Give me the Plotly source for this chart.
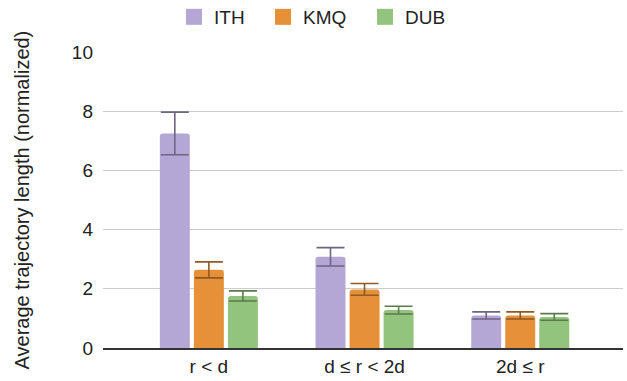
import plotly.graph_objects as go

categories = ["r < d", "d ≤ r < 2d", "2d ≤ r"]
series_names = ["ITH", "KMQ", "DUB"]
ith = [7.25, 3.08, 1.10]
kmq = [2.64, 1.98, 1.10]
dub = [1.76, 1.28, 1.05]
ith_err = [0.72, 0.31, 0.12]
kmq_err = [0.27, 0.20, 0.12]
dub_err = [0.17, 0.13, 0.11]
y_ticks = [0, 2, 4, 6, 8, 10]

colors = ["#b4a7d6", "#e69138", "#93c47d"]
err_colors = ["#6e6484", "#8e5a26", "#5b7a4e"]
legend_ids = ["legend", "legend2", "legend3"]
legend_x = [174, 263, 365]  # left edge of each legend entry, px

W, H = 627, 381
fig = go.Figure()
for name, vals, errs, c, ec in zip(series_names, [ith, kmq, dub],
                                   [ith_err, kmq_err, dub_err], colors, err_colors):
    fig.add_trace(go.Bar(
        name=name, x=categories, y=vals, showlegend=False,
        marker=dict(color=c, cornerradius=3, line=dict(width=0)),
        error_y=dict(type="data", array=errs, visible=True,
                     color=ec, thickness=1.6, width=14),
    ))
# legend entries with larger square swatches
for name, c, lid in zip(series_names, colors, legend_ids):
    fig.add_trace(go.Scatter(
        name=name, x=[None], y=[None], mode="markers", legend=lid,
        marker=dict(symbol="square", size=18, color=c), showlegend=True,
    ))

font = "Liberation Sans, Arial, sans-serif"
legend_common = dict(orientation="h", xref="container", xanchor="left",
                     yref="container", y=1 - 17 / H, yanchor="middle",
                     font=dict(size=19, color="#222222"),
                     itemsizing="trace", bgcolor="rgba(0,0,0,0)")
layout_legends = {}
for lid, lx in zip(legend_ids, legend_x):
    layout_legends[lid] = dict(legend_common, x=lx / W)

fig.update_layout(
    width=W, height=H,
    margin=dict(l=103, r=4, t=52, b=33, autoexpand=False),
    paper_bgcolor="white", plot_bgcolor="white",
    barmode="group", bargap=0.344, bargroupgap=0.12,
    font=dict(family=font, size=19, color="#222222"),
    showlegend=True,
    xaxis=dict(type="category", range=[-0.68, 2.66], showgrid=False,
               showline=True, linecolor="#333333", linewidth=1.5,
               ticks="", tickfont=dict(size=19, color="#222222"), automargin=False),
    yaxis=dict(range=[0, 10], tickvals=y_ticks, showgrid=True,
               gridcolor="#cccccc", gridwidth=1, zeroline=False,
               ticks="", ticklabelstandoff=9,
               tickfont=dict(size=19, color="#222222"), showline=False,
               automargin=False),
    annotations=[dict(text="Average trajectory length (normalized)",
                      xref="paper", yref="paper", x=-0.155, y=0.5,
                      xanchor="center", yanchor="middle", textangle=-90,
                      showarrow=False, font=dict(size=20, color="#222222"))],
    **layout_legends,
)
fig.write_html("out.html", config={"displayModeBar": False},
               post_script="document.body.style.margin='0';document.body.style.overflow='hidden';")
